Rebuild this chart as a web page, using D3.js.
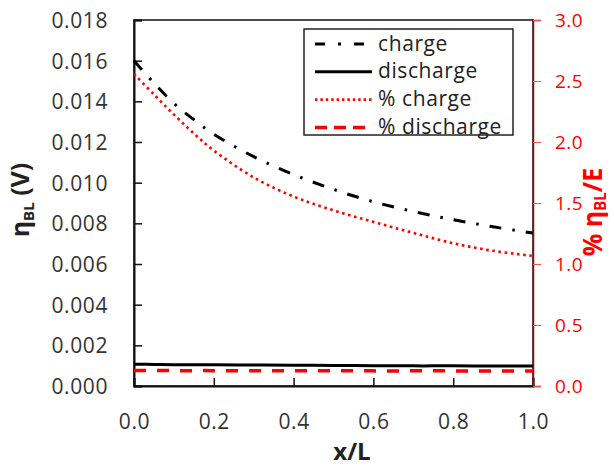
<!DOCTYPE html>
<html>
<head>
<meta charset="utf-8">
<script src="https://cdn.jsdelivr.net/npm/d3@7"></script>
<style>
  html, body { margin: 0; padding: 0; background: #fff; }
  svg { display: block; }
  text { font-family: "Open Sans", "DejaVu Sans", sans-serif; }
</style>
</head>
<body>
<svg id="chart" width="614" height="466"></svg>
<script>
// Position along the cell, x/L
const xPos = [0, 0.05, 0.1, 0.15, 0.2, 0.3, 0.4, 0.5, 0.6, 0.7, 0.8, 0.9, 1.0];

// Boundary-layer overpotential (V), left axis
const charge    = [0.0160, 0.0149, 0.0139, 0.0131, 0.01238, 0.01128, 0.01040, 0.00967, 0.00906, 0.00858, 0.00818, 0.00783, 0.00752];
const discharge = [0.00107, 0.00106, 0.00105, 0.00105, 0.00104, 0.00103, 0.00102, 0.00101, 0.00100, 0.00099, 0.00099, 0.00098, 0.00098];

// Overpotential as a percentage of E, right axis
const pctCharge    = [2.557, 2.39, 2.225, 2.07, 1.93, 1.71, 1.553, 1.44, 1.345, 1.255, 1.170, 1.108, 1.066];
const pctDischarge = [0.127, 0.127, 0.126, 0.126, 0.126, 0.125, 0.125, 0.125, 0.124, 0.124, 0.124, 0.123, 0.123];

// Tick values
const xTicks = [0, 0.2, 0.4, 0.6, 0.8, 1.0];
const leftTicks = [0, 0.002, 0.004, 0.006, 0.008, 0.010, 0.012, 0.014, 0.016, 0.018];
const rightTicks = [0, 0.5, 1.0, 1.5, 2.0, 2.5, 3.0];

// Legend entries
const legendLabels = ["charge", "discharge", "% charge", "% discharge"];

const svg = d3.select("#chart");
const plotLeft = 134, plotRight = 533, plotTop = 20, plotBottom = 386;

const x = d3.scaleLinear().domain([0, 1]).range([plotLeft, plotRight]);
const yL = d3.scaleLinear().domain([0, 0.018]).range([plotBottom, plotTop]);
const yR = d3.scaleLinear().domain([0, 3]).range([plotBottom, plotTop]);

const labelColor = "#333";

// Plot frame
svg.append("rect")
  .attr("x", plotLeft).attr("y", plotTop)
  .attr("width", plotRight - plotLeft).attr("height", plotBottom - plotTop)
  .attr("fill", "none").attr("stroke", "#111").attr("stroke-width", 1.5);

// Left axis, ticks pointing inward
const gL = svg.append("g").attr("transform", `translate(${plotLeft},0)`)
  .call(d3.axisLeft(yL).tickValues(leftTicks).tickFormat(d3.format(".3f")).tickSize(-8).tickPadding(26));
gL.select(".domain").attr("stroke", "#111").attr("stroke-width", 2);
gL.selectAll(".tick line").attr("stroke", "#111").attr("stroke-width", 1.5);
gL.selectAll(".tick text")
  .attr("fill", labelColor).attr("font-size", 21).attr("letter-spacing", 0.6)
  .attr("dy", "0.36em").attr("font-family", "Open Sans");

// Bottom axis, ticks pointing inward
const gB = svg.append("g").attr("transform", `translate(0,${plotBottom})`)
  .call(d3.axisBottom(x).tickValues(xTicks).tickFormat(d3.format(".1f")).tickSize(-8).tickPadding(0));
gB.select(".domain").attr("stroke", "#111").attr("stroke-width", 2);
gB.selectAll(".tick line").attr("stroke", "#111").attr("stroke-width", 1.5);
gB.selectAll(".tick text")
  .attr("fill", labelColor).attr("font-size", 21).attr("letter-spacing", 0.6)
  .attr("y", 43).attr("dy", 0).attr("font-family", "Open Sans");

// Right axis in red, ticks pointing outward
const red = "#ff0000";
const gR = svg.append("g").attr("transform", `translate(${plotRight},0)`)
  .call(d3.axisRight(yR).tickValues(rightTicks).tickFormat(d3.format(".1f")).tickSize(8).tickPadding(14));
gR.select(".domain").attr("stroke", "#b00000").attr("stroke-width", 1.5);
gR.selectAll(".tick line").attr("stroke", "#ff5050").attr("stroke-width", 1);
gR.selectAll(".tick text")
  .attr("fill", red).attr("font-size", 19).attr("letter-spacing", 0.4)
  .attr("dy", "0.36em").attr("font-family", "Open Sans");

// Data lines
const lineL = d3.line().x((d, i) => x(xPos[i])).y(d => yL(d)).curve(d3.curveCatmullRom);
const lineR = d3.line().x((d, i) => x(xPos[i])).y(d => yR(d)).curve(d3.curveCatmullRom);

const styles = [
  { stroke: "#000", width: 3, dash: "12 11 2.5 11", cap: "butt" },
  { stroke: "#000", width: 3, dash: null, cap: "butt" },
  { stroke: red, width: 2.6, dash: "2.6 3.6", cap: "butt" },
  { stroke: red, width: 3.5, dash: "12 11", cap: "butt" }
];
const series = [
  { values: charge, line: lineL },
  { values: discharge, line: lineL },
  { values: pctCharge, line: lineR },
  { values: pctDischarge, line: lineR }
];

series.forEach((s, i) => {
  svg.append("path")
    .attr("d", s.line(s.values))
    .attr("fill", "none")
    .attr("stroke", styles[i].stroke)
    .attr("stroke-width", styles[i].width)
    .attr("stroke-dasharray", styles[i].dash)
    .attr("stroke-linecap", styles[i].cap);
});

// Legend
const lg = svg.append("g");
lg.append("rect")
  .attr("x", 304).attr("y", 29).attr("width", 209).attr("height", 106)
  .attr("fill", "#fff").attr("stroke", "#222").attr("stroke-width", 1.5);
const legendDash = ["10 13 3 13", null, "2.4 3", "12 7"];
legendLabels.forEach((lab, i) => {
  const yy = 44 + i * 27.8;
  lg.append("line")
    .attr("x1", 315).attr("x2", 372).attr("y1", yy).attr("y2", yy)
    .attr("stroke", styles[i].stroke)
    .attr("stroke-width", styles[i].width)
    .attr("stroke-dasharray", legendDash[i]);
  lg.append("text")
    .attr("x", 378).attr("y", yy + 6.5)
    .attr("fill", "#222").attr("font-size", 21).attr("letter-spacing", 0.6)
    .text(lab);
});

// Axis titles
svg.append("text")
  .attr("x", 352).attr("y", 460)
  .attr("text-anchor", "middle")
  .attr("font-size", 24).attr("font-weight", "bold").attr("fill", "#222")
  .text("x/L");

const tL = svg.append("text")
  .attr("transform", "translate(29,200) rotate(-90)")
  .attr("text-anchor", "middle")
  .attr("font-size", 25).attr("font-weight", "bold").attr("fill", "#222");
tL.append("tspan").text("η");
tL.append("tspan").attr("font-size", 15).attr("dy", 5).text("BL");
tL.append("tspan").attr("dy", -5).text(" (V)");

const tR = svg.append("text")
  .attr("transform", "translate(602,212) rotate(-90) scale(1,1.08)")
  .attr("text-anchor", "middle")
  .attr("font-size", 25).attr("font-weight", "bold").attr("fill", red);
tR.append("tspan").text("% η");
tR.append("tspan").attr("font-size", 15).attr("dy", 4).text("BL");
tR.append("tspan").attr("dy", -4).text("/E");
</script>
</body>
</html>
